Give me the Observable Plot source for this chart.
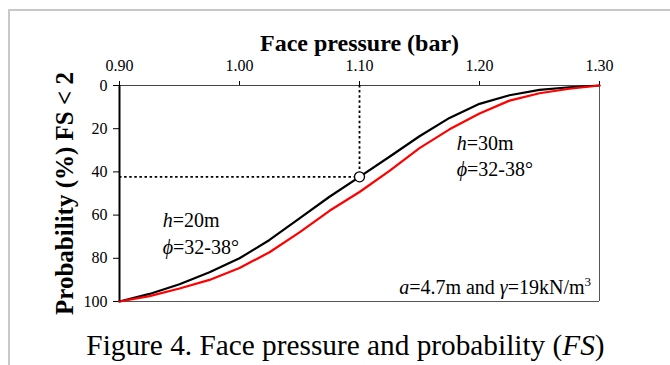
<!DOCTYPE html>
<html><head><meta charset="utf-8">
<script src="https://cdn.jsdelivr.net/npm/d3@7"></script>
<script src="https://cdn.jsdelivr.net/npm/@observablehq/plot@0.6"></script>
<style>
html,body{margin:0;padding:0;background:#fff;}
body{width:670px;height:365px;overflow:hidden;position:relative;font-family:"Liberation Serif","Times New Roman",serif;color:#000;}
#border{position:absolute;left:8px;top:9px;width:700px;height:400px;border:2px solid #c8c8c8;box-sizing:border-box;}
#chart{position:absolute;left:0;top:0;}
#chart svg{display:block;overflow:visible;}
#caption{position:absolute;left:0;width:691px;top:331px;text-align:center;font-size:29.3px;line-height:29px;white-space:nowrap;}
#chart g[aria-label="x-axis label"] text{font-weight:bold;font-size:24px;}
#chart g[aria-label="y-axis label"] text{font-weight:bold;font-size:25px;}
</style>
</head><body>
<div id="border"></div>
<div id="chart"></div>
<div id="caption">Figure 4. Face pressure and probability (<i>FS</i>)</div>
<script>
// ---- data ----
const pressure  = [0.900, 0.925, 0.950, 0.975, 1.000, 1.025, 1.050, 1.075, 1.100, 1.125, 1.150, 1.175, 1.200, 1.225, 1.250, 1.275, 1.300];
const blackProb = [100, 96.5, 92, 86.5, 80, 71.5, 61.5, 51.5, 42.3, 33, 23.5, 15, 8.5, 4.5, 2, 0.8, 0];
const redProb   = [100, 97.5, 94, 90, 84.5, 77.2, 68, 58, 49.3, 39.5, 29, 20.3, 13, 7, 3.6, 1.5, 0];
const xTicks = [0.90, 1.00, 1.10, 1.20, 1.30];
const yTicks = [0, 20, 40, 60, 80, 100];
const refPressure = 1.10;
const refProb = 42.3;
const annotText = ["h=20m", "ϕ=32-38°", "h=30m", "ϕ=32-38°", "a=4.7m and γ=19kN/m3"];
const annotX    = [0.936, 0.936, 1.181, 1.181, 1.293];
const annotY    = [65.6, 77.9, 29.8, 42.0, 96.4];
const annotAnchor = ["start", "start", "start", "start", "end"];

const richRuns = {
  "h=20m": [["h","i"],["=20m",""]],
  "h=30m": [["h","i"],["=30m",""]],
  "ϕ=32-38°": [["ϕ","i"],["=32-38°",""]],
  "a=4.7m and γ=19kN/m3": [["a","i"],["=4.7m and ",""],["γ","i"],["=19kN/m",""],["3","sup"]]
};

const blackRows = pressure.map((p, i) => ({p, v: blackProb[i]}));
const redRows = pressure.map((p, i) => ({p, v: redProb[i]}));
const annots = annotText.map((t, i) => ({t, x: annotX[i], y: annotY[i], a: annotAnchor[i]}));

const chart = Plot.plot({
  width: 670, height: 310,
  marginLeft: 119, marginRight: 71, marginTop: 85, marginBottom: 9,
  style: {fontFamily: "'Liberation Serif','Times New Roman',serif", fontSize: "16px", color: "#000", background: "transparent", overflow: "visible"},
  x: {domain: [0.9, 1.3], axis: "top", ticks: xTicks, tickFormat: d => d.toFixed(2), tickSize: 5, tickPadding: 10,
      label: "Face pressure (bar)", labelAnchor: "center", labelOffset: 52, labelArrow: "none"},
  y: {domain: [0, 100], reverse: true, ticks: yTicks, tickSize: 6, tickPadding: 6,
      label: "Probability (%) FS < 2", labelAnchor: "center", labelOffset: 64, labelArrow: "none"},
  marks: [
    Plot.ruleY([0], {stroke: "#444", strokeWidth: 1}),
    Plot.ruleY([100], {stroke: "#555", strokeWidth: 1}),
    Plot.ruleX([1.3], {stroke: "#555", strokeWidth: 1}),
    Plot.ruleY([refProb], {x1: 0.9, x2: refPressure, stroke: "#000", strokeWidth: 1.8, strokeDasharray: "2.5,2.6"}),
    Plot.ruleX([refPressure], {y1: 0, y2: refProb, stroke: "#000", strokeWidth: 1.8, strokeDasharray: "2.5,2.6"}),
    Plot.line(blackRows, {x: "p", y: "v", stroke: "#000", strokeWidth: 2.2, curve: "linear"}),
    Plot.line(redRows, {x: "p", y: "v", stroke: "#ff0000", strokeWidth: 2.2, curve: "linear"}),
    Plot.ruleX([0.9], {stroke: "#000", strokeWidth: 2}),
    Plot.dot([{p: refPressure, v: refProb}], {x: "p", y: "v", r: 5, fill: "#fff", stroke: "#000", strokeWidth: 1.3}),
    Plot.text(annots.filter(d => d.a === "start"), {x: "x", y: "y", text: "t", textAnchor: "start", lineAnchor: "bottom", fontSize: 20, fill: "#000"}),
    Plot.text(annots.filter(d => d.a === "end"), {x: "x", y: "y", text: "t", textAnchor: "end", lineAnchor: "bottom", fontSize: 20, fill: "#000"})
  ]
});
document.getElementById("chart").appendChild(chart);

// rich text (italic letters, superscript) for the annotations
d3.select(chart).selectAll("text").each(function() {
  const runs = richRuns[this.textContent];
  if (!runs || this.querySelector("tspan")) return;
  const el = d3.select(this);
  el.text(null);
  for (const [s, st] of runs) {
    const ts = el.append("tspan").text(s);
    if (st === "i") ts.attr("font-style", "italic");
    if (st === "sup") ts.attr("font-size", 13).attr("dy", -8);
  }
});
</script>
</body></html>
